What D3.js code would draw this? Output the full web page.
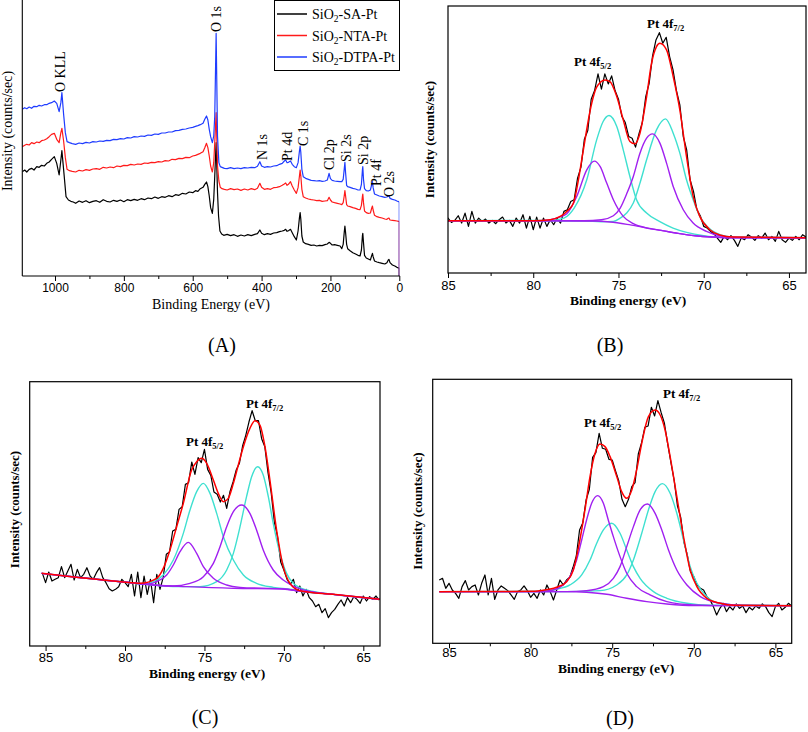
<!DOCTYPE html>
<html><head><meta charset="utf-8">
<script src="https://cdn.jsdelivr.net/npm/d3@7/dist/d3.min.js"></script>
<style>body{margin:0;background:#fff}svg{display:block}</style>
</head><body>
<svg id="c" width="808" height="732"></svg>
<script>
// ---------------- DATA ----------------
// Panel A: survey spectra, [binding energy eV, intensity a.u.]
const surveySA = [[1095,313],[1088,318],[1082,312],[1075,320],[1068,323],[1061,318],[1053,328],[1046,326],[1039,332],[1031,330],[1024,338],[1017,342],[1010,350],[1002,358],[995,338],[988,303],[983,348],[980,376],[974,308],[968,238],[961,228],[954,224],[947,222],[940,218],[930,225],[920,221],[910,226],[900,220],[890,224],[880,226],[870,221],[860,229],[850,224],[840,222],[830,227],[820,224],[810,228],[800,223],[790,229],[780,226],[770,230],[760,227],[750,232],[740,229],[730,234],[720,232],[710,237],[700,233],[690,238],[680,236],[670,241],[660,238],[650,244],[640,242],[630,248],[620,246],[610,252],[600,250],[592,256],[585,254],[578,262],[570,266],[565,275],[560,282],[556,268],[552,240],[548,205],[543,188],[539,230],[536,300],[532,400],[528,250],[525,180],[521,135],[516,126],[510,122],[500,125],[490,121],[480,124],[470,119],[460,123],[450,120],[440,124],[430,121],[420,125],[412,127],[405,138],[400,128],[392,124],[383,127],[374,125],[365,129],[356,130],[348,133],[340,135],[334,137],[330,140],[326,134],[322,136],[316,140],[311,130],[305,118],[299,108],[294,135],[290,175],[288,190],[286,170],[283,120],[279,102],[272,97],[264,95],[256,92],[248,93],[240,90],[232,92],[224,91],[216,94],[209,96],[204,101],[200,98],[195,93],[188,94],[180,92],[172,90],[167,82],[163,95],[160,130],[158,150],[156,130],[153,95],[150,82],[143,76],[135,70],[127,66],[120,62],[114,60],[110,78],[107,122],[106,128],[104,100],[101,62],[96,54],[90,51],[84,48],[80,62],[78,68],[76,58],[72,45],[65,42],[58,40],[50,38],[42,36],[36,40],[32,48],[30,50],[27,40],[20,33],[13,30],[7,26],[2,24],[0,23],[0,0]];
const surveyNTA = [[1095,388],[1088,392],[1082,395],[1075,393],[1068,400],[1061,397],[1053,402],[1046,400],[1039,406],[1031,408],[1024,412],[1017,418],[1010,425],[1002,428],[995,410],[988,400],[983,430],[980,443],[975,405],[970,355],[965,320],[958,316],[950,314],[940,312],[930,317],[920,315],[910,319],[900,317],[890,321],[880,322],[870,320],[860,326],[850,324],[840,327],[830,325],[820,330],[810,328],[800,332],[790,331],[780,335],[770,333],[760,336],[750,335],[740,339],[730,338],[720,341],[710,340],[700,343],[690,342],[680,346],[670,345],[660,350],[650,349],[640,353],[630,352],[620,356],[610,355],[600,360],[592,362],[585,365],[578,368],[570,373],[565,385],[560,398],[556,385],[552,360],[548,330],[543,312],[539,340],[536,400],[532,490],[528,330],[524,285],[520,266],[515,262],[508,260],[500,258],[490,262],[480,259],[470,261],[460,257],[450,261],[440,258],[430,262],[420,259],[412,263],[405,278],[400,266],[392,260],[383,262],[374,260],[365,265],[356,266],[348,268],[340,272],[334,276],[330,279],[326,272],[322,275],[316,283],[311,270],[305,258],[299,248],[294,265],[290,300],[288,318],[286,300],[283,260],[279,238],[272,234],[264,231],[256,229],[248,228],[240,226],[232,227],[224,224],[216,225],[209,226],[204,236],[200,228],[195,222],[188,220],[180,218],[172,216],[167,214],[163,220],[160,240],[158,256],[156,240],[153,214],[150,210],[143,208],[135,205],[127,203],[120,200],[114,199],[110,212],[107,240],[106,246],[104,220],[101,195],[96,190],[90,188],[84,189],[80,204],[78,210],[76,198],[72,182],[65,178],[58,176],[50,174],[42,171],[36,170],[32,173],[30,174],[27,168],[20,167],[13,166],[7,165],[2,164],[0,163],[0,0]];
const surveyDTPA = [[1095,500],[1088,505],[1082,502],[1075,507],[1068,503],[1061,509],[1053,508],[1046,512],[1039,510],[1031,514],[1024,514],[1017,518],[1010,520],[1002,525],[995,518],[988,493],[983,520],[980,550],[975,485],[970,430],[965,403],[958,400],[950,397],[940,395],[930,399],[920,397],[910,401],[900,399],[890,403],[880,402],[870,405],[860,404],[850,407],[840,406],[830,410],[820,409],[810,412],[800,411],[790,415],[780,414],[770,418],[760,417],[750,420],[740,419],[730,423],[720,422],[710,426],[700,425],[690,429],[680,429],[670,432],[660,432],[650,436],[640,437],[630,440],[620,441],[610,444],[600,446],[592,449],[585,451],[578,454],[570,458],[565,470],[560,480],[556,468],[552,440],[548,418],[543,400],[539,420],[536,480],[532,728],[528,420],[524,340],[520,328],[515,326],[508,323],[500,322],[490,325],[480,322],[470,324],[460,322],[450,325],[440,324],[430,326],[420,325],[412,329],[405,343],[400,330],[392,326],[383,328],[374,327],[365,330],[356,331],[348,335],[340,338],[334,345],[330,348],[326,340],[322,341],[316,345],[311,335],[305,328],[299,325],[294,340],[290,375],[288,390],[286,370],[283,320],[279,298],[272,293],[264,290],[256,287],[248,286],[240,285],[232,286],[224,284],[216,285],[209,288],[204,308],[200,292],[195,287],[188,285],[180,284],[172,283],[167,283],[163,290],[160,320],[158,341],[156,310],[153,272],[150,268],[143,266],[135,263],[127,261],[120,258],[114,258],[110,275],[107,320],[106,328],[104,290],[101,262],[96,256],[90,255],[84,258],[80,275],[78,283],[76,265],[72,246],[65,243],[58,240],[50,238],[42,236],[36,237],[32,240],[30,241],[27,233],[20,230],[13,228],[7,225],[2,223],[0,222],[0,0]];
const surveyNames = ["SA", "NTA", "DTPA"];
const surveyTicks = [1000, 800, 600, 400, 200, 0];
const surveyMinor = [900, 700, 500, 300, 100];
const peakLabels = ["O KLL", "O 1s", "N 1s", "Pt 4d", "C 1s", "Cl 2p", "Si 2s", "Si 2p", "Pt 4f", "O 2s"];

// Panels B-D: Pt 4f high-resolution spectra
const gridE = [85.6,85.4,85.2,85.0,84.8,84.6,84.4,84.2,84.0,83.8,
83.6,83.4,83.2,83.0,82.8,82.6,82.4,82.2,82.0,81.8,
81.6,81.4,81.2,81.0,80.8,80.6,80.4,80.2,80.0,79.8,
79.6,79.4,79.2,79.0,78.8,78.6,78.4,78.2,78.0,77.8,
77.6,77.4,77.2,77.0,76.8,76.6,76.4,76.2,76.0,75.8,
75.6,75.4,75.2,75.0,74.8,74.6,74.4,74.2,74.0,73.8,
73.6,73.4,73.2,73.0,72.8,72.6,72.4,72.2,72.0,71.8,
71.6,71.4,71.2,71.0,70.8,70.6,70.4,70.2,70.0,69.8,
69.6,69.4,69.2,69.0,68.8,68.6,68.4,68.2,68.0,67.8,
67.6,67.4,67.2,67.0,66.8,66.6,66.4,66.2,66.0,65.8,
65.6,65.4,65.2,65.0,64.8,64.6,64.4,64.2,64.0];

const rawB = [155,160,150,165,152,158,172,150,180,140,
185,150,165,155,162,150,158,148,160,168,
150,158,140,165,150,175,135,170,130,168,
135,165,140,160,145,165,150,185,190,215,
220,285,318,402,428,522,548,598,552,598,
568,592,548,522,470,452,410,405,378,418,
452,530,570,652,700,722,690,708,650,610,
548,505,410,370,280,245,190,172,140,135,
125,118,105,92,110,100,112,98,80,105,
100,115,108,98,112,105,120,100,110,95,
125,100,92,105,98,110,100,115,108];
const bgB = [[85,157],[78,157],[76.5,156],[75.5,153],[74.5,146],[73.5,137],[72.5,128],[71.5,119],[70.5,112],[69.5,108],[68.5,106],[64,106]];
const p1B = [[85,157],[80,157],[79.6,157],[78.62,165],[78.03,178],[77.45,230],[76.86,310],[76.41,336],[76.08,320],[75.69,270],[75.3,220],[74.72,170],[74.13,148],[73.35,135],[72.5,128],[71.5,119],[70.5,112],[69.5,108],[68.5,106],[64,106]];
const c1B = [[85,157],[79,158],[78.2,165],[77.6,195],[76.86,280],[76.28,400],[75.9,455],[75.55,473],[75.1,440],[74.72,370],[74.33,290],[73.94,220],[73.35,180],[72.6,155],[71.8,135],[71,122],[70,112],[69,107],[64,106]];
const p2B = [[85,157],[77,157],[76.0,160],[75.3,172],[74.9,195],[74.5,240],[74.13,290],[73.74,360],[73.35,405],[73.0,418],[72.57,390],[72.18,330],[71.79,260],[71.2,190],[70.62,150],[69.84,125],[69.06,112],[68,107],[64,106]];
const c2B = [[85,157],[77,156],[76,154],[75.3,155],[74.9,165],[74.52,180],[74.13,210],[73.74,270],[73.35,340],[72.77,430],[72.24,463],[71.79,420],[71.4,360],[71.01,280],[70.62,220],[70.23,170],[69.8,140],[69.25,120],[68.28,108],[64,106]];
const fitB = [[85,157],[80,157],[79,160],[78.42,170],[78.03,185],[77.64,210],[77.35,280],[77.06,370],[76.57,510],[76.28,558],[75.79,580],[75.5,575],[75.1,530],[74.72,460],[74.33,395],[74.03,388],[73.74,420],[73.35,530],[73.06,630],[72.77,680],[72.57,690],[72.18,670],[71.79,590],[71.4,490],[71.01,350],[70.62,230],[70.23,170],[69.64,130],[69.06,114],[68.28,108],[64,106]];

const rawC = [null,null,218,190,222,195,200,205,238,205,
225,245,198,230,205,215,235,210,200,220,
235,205,190,172,165,170,178,200,190,178,
215,150,222,145,210,155,200,130,215,170,
205,275,282,345,350,410,418,485,490,552,
515,565,550,590,530,512,462,455,432,452,
413,462,492,528,548,600,632,672,706,676,
676,622,598,520,460,372,328,252,228,200,
185,200,160,180,150,170,145,135,118,125,
100,112,85,100,110,125,138,120,145,130,
148,140,128,150,135,148,140,150,138];
const bgC = [[85.25,218],[82.63,205],[80.11,192],[78.22,183],[76.12,178],[73.18,173],[70.04,171],[69,165],[66.9,155],[63.95,140]];
const p1C = [[85.25,218],[80.11,192],[78.5,186],[78.01,193],[77.38,213],[76.96,243],[76.54,283],[76.02,311],[75.49,278],[75.07,238],[74.44,203],[73.6,183],[72.76,176],[70.04,171],[69,165],[66.9,155],[63.95,140]];
const c1C = [[85.25,218],[80.11,192],[78.8,186],[78.22,193],[77.59,213],[76.96,258],[76.33,338],[75.91,408],[75.49,463],[75.07,488],[74.65,458],[74.23,398],[73.81,328],[73.18,258],[72.55,213],[71.72,188],[70.67,176],[69.5,170],[69,165],[66.9,155],[63.95,140]];
const p2C = [[85.25,218],[80.11,192],[77,180],[75.91,188],[75.07,208],[74.44,248],[74.02,298],[73.6,358],[73.18,403],[72.66,423],[72.14,398],[71.72,348],[71.3,288],[70.67,228],[70.04,198],[69.41,180],[68.57,166],[66.9,155],[63.95,140]];
const c2C = [[85.25,218],[80.11,192],[76.5,178],[75.28,178],[74.23,193],[73.6,228],[73.18,278],[72.76,358],[72.35,448],[72.03,508],[71.65,538],[71.3,513],[70.98,448],[70.67,368],[70.25,278],[69.83,218],[69.41,188],[68.57,168],[66.9,155],[63.95,140]];
const fitC = [[85.25,218],[80.11,192],[79.06,188],[78.01,203],[77.59,233],[77.17,288],[76.75,358],[76.33,428],[75.81,528],[75.49,553],[75.18,563],[74.86,548],[74.44,498],[74.13,458],[73.81,433],[73.5,443],[73.18,488],[72.87,543],[72.55,598],[72.14,653],[71.82,676],[71.51,663],[71.19,598],[70.88,498],[70.46,348],[70.04,238],[69.62,188],[68.99,166],[66.9,155],[63.95,140]];

const rawD = [190,195,165,180,160,150,135,170,188,160,
170,175,145,180,205,145,195,132,160,172,
165,158,145,132,155,160,172,158,138,150,
135,160,145,175,155,130,160,190,175,190,
198,228,262,340,362,430,462,558,572,630,
585,582,552,550,518,488,432,410,432,470,
482,568,602,648,652,708,682,728,692,660,
598,542,488,412,378,302,266,214,200,175,
165,160,140,130,110,85,105,120,95,110,
100,118,105,112,92,108,100,112,105,118,
110,92,80,110,120,100,108,120,112];
const bgD = [[85.6,155],[77.8,155],[76.57,153],[75.34,147],[74.11,135],[72.88,125],[71.65,118],[70.0,113],[64,113]];
const p1D = [[85.6,155],[79.5,155],[78.61,160],[78.0,175],[77.59,200],[77.18,250],[76.87,310],[76.57,370],[76.26,420],[75.89,443],[75.54,420],[75.24,370],[74.93,320],[74.52,260],[74.11,210],[73.5,170],[72.68,145],[71.65,125],[70.0,115],[68,113],[64,113]];
const c1D = [[85.6,155],[79.5,156],[78.41,162],[77.59,175],[76.87,205],[76.36,250],[75.95,300],[75.54,340],[75.03,360],[74.52,330],[74.11,280],[73.7,230],[73.29,195],[72.47,155],[71.65,135],[70.42,120],[69,114],[64,113]];
const p2D = [[85.6,155],[77.8,155],[76.57,158],[75.54,170],[74.93,195],[74.52,230],[74.11,290],[73.7,350],[73.29,400],[72.84,418],[72.37,390],[71.96,340],[71.55,280],[71.04,220],[70.42,175],[69.6,140],[68.38,120],[67,114],[64,113]];
const c2D = [[85.6,155],[77.8,155],[75.75,158],[74.72,175],[74.11,205],[73.7,250],[73.19,330],[72.78,400],[72.37,455],[71.92,479],[71.45,450],[71.04,390],[70.63,310],[70.22,230],[69.81,180],[69.2,140],[68.38,120],[67,114],[64,113]];
const fitD = [[85.6,155],[80,156],[79.43,158],[78.41,168],[77.79,185],[77.38,220],[76.98,310],[76.67,400],[76.36,500],[76.05,570],[75.75,598],[75.44,590],[75.13,560],[74.72,500],[74.42,455],[74.11,435],[73.8,460],[73.5,520],[73.19,600],[72.78,680],[72.37,700],[72.06,685],[71.76,640],[71.45,560],[71.04,440],[70.63,320],[70.22,220],[69.81,170],[69.2,135],[68.38,120],[67.56,114],[64,113]];

const ptTicks = [85, 80, 75, 70, 65];
const ptMinor = [82.5, 77.5, 72.5, 67.5];

// ---------------- DRAWING ----------------
const svg = d3.select('#c');
const SERIF = "'Liberation Serif','Times New Roman',Times,serif";
const SANS = "'Liberation Sans',Arial,Helvetica,sans-serif";
const COL = {raw:'#000000', fit:'#ff0000', cyan:'#3fe0d0', purple:'#a020f0',
  SA:'#000000', NTA:'#ff1a1a', DTPA:'#1f3cff'};

let clipN = 0;
function panel(cfg){
  const g = svg.append('g');
  const x = d3.scaleLinear().domain(cfg.xd).range(cfg.xr);
  const y = d3.scaleLinear().domain(cfg.yd).range(cfg.yr);
  const id = 'clip' + (clipN++);
  svg.append('defs').append('clipPath').attr('id', id).append('rect')
    .attr('x', cfg.xr[0]).attr('y', cfg.yr[1])
    .attr('width', cfg.xr[1]-cfg.xr[0]).attr('height', cfg.yr[0]-cfg.yr[1]);
  const plot = g.append('g').attr('clip-path', `url(#${id})`);
  const mi = g.append('g').attr('transform', `translate(0,${cfg.yr[0]})`)
    .call(d3.axisBottom(x).tickValues(cfg.minor).tickSize(3).tickSizeOuter(0).tickFormat(''));
  mi.select('.domain').remove();
  const ma = g.append('g').attr('transform', `translate(0,${cfg.yr[0]})`)
    .call(d3.axisBottom(x).tickValues(cfg.major).tickSize(5).tickSizeOuter(0).tickFormat(d3.format('d')));
  ma.select('.domain').remove();
  g.selectAll('.tick line').attr('stroke', '#000').attr('stroke-width', 1);
  ma.selectAll('.tick text').attr('y', cfg.labelBase - cfg.yr[0]).attr('dy', null)
    .attr('font-family', SANS).attr('font-size', cfg.tickFont).attr('fill', '#000');
  return {g, plot, x, y};
}
function path(p, data, x, y, color, w, curve){
  const ln = d3.line().defined(d => d[1] != null).x(d => x(d[0])).y(d => y(d[1])).curve(curve || d3.curveLinear);
  p.append('path').datum(data).attr('d', ln).attr('fill', 'none')
    .attr('stroke', color).attr('stroke-width', w).attr('stroke-linejoin', 'round');
}
function text(parent, s, x, y, opt){
  const t = parent.append('text').attr('x', x).attr('y', y)
    .attr('font-family', opt.family || SERIF).attr('font-size', opt.size)
    .attr('font-weight', opt.weight || 'normal').attr('text-anchor', opt.anchor || 'start').attr('fill', '#000');
  if (opt.rotate) t.attr('x', 0).attr('y', 0).attr('transform', `translate(${x},${y}) rotate(-90)`);
  t.text(s);
  return t;
}

// ----- Panel A -----
{
  const P = panel({xd:[1095,0], xr:[22.3,399.3], yd:[0,828], yr:[276,0],
    major:surveyTicks, minor:surveyMinor, labelBase:292, tickFont:12});
  const series = [surveySA, surveyNTA, surveyDTPA];
  series.forEach((s, i) => path(P.plot, s, P.x, P.y, COL[surveyNames[i]], 1.2));
  P.g.append('line').attr('x1',22.3).attr('x2',22.3).attr('y1',0).attr('y2',276).attr('stroke','#000').attr('stroke-width',1.1);
  P.g.append('line').attr('x1',22.3).attr('x2',399.8).attr('y1',276).attr('y2',276).attr('stroke','#000').attr('stroke-width',1.1);
  const pos = [[65,92],[221,32],[267,160],[292,161],[308,146],[334,170],[351,162],[368,165],[381,186],[394,197]];
  peakLabels.forEach((s, i) => text(P.g, s, pos[i][0], pos[i][1], {size:14, rotate:true}));
  const lg = P.g.append('g');
  lg.append('rect').attr('x',274.5).attr('y',0.5).attr('width',125).attr('height',70)
    .attr('fill','#fff').attr('stroke','#000').attr('stroke-width',1);
  surveyNames.forEach((n, i) => {
    const yy = 14 + i*21.5;
    lg.append('line').attr('x1',277).attr('x2',307).attr('y1',yy).attr('y2',yy)
      .attr('stroke', COL[n]).attr('stroke-width',1.5);
    const t = lg.append('text').attr('x',312).attr('y',yy+5).attr('font-family',SERIF).attr('font-size',14).attr('fill','#000');
    t.append('tspan').text('SiO');
    t.append('tspan').attr('dy',3).attr('font-size',9.5).text('2');
    t.append('tspan').attr('dy',-3).text('-' + n + '-Pt');
  });
  text(P.g, 'Intensity (counts/sec)', 12, 131, {size:14, rotate:true, anchor:'middle'});
  text(P.g, 'Binding Energy (eV)', 211, 309, {size:14, anchor:'middle'});
  text(svg, '(A)', 222, 352, {size:20, anchor:'middle'});
}

// ----- Panels B, C, D -----
function ptPanel(cfg){
  const P = panel({xd:cfg.xd, xr:cfg.xr, yd:cfg.yd, yr:cfg.yr,
    major:ptTicks, minor:ptMinor, labelBase:cfg.labelBase, tickFont:13});
  const raw = gridE.map((e, i) => [e, cfg.raw[i]]);
  path(P.plot, raw, P.x, P.y, COL.raw, 1.2);
  const sm = d3.curveMonotoneX;
  path(P.plot, cfg.c1, P.x, P.y, COL.cyan, 1.4, sm);
  path(P.plot, cfg.c2, P.x, P.y, COL.cyan, 1.4, sm);
  path(P.plot, cfg.p1, P.x, P.y, COL.purple, 1.4, sm);
  path(P.plot, cfg.p2, P.x, P.y, COL.purple, 1.4, sm);
  path(P.plot, cfg.bg, P.x, P.y, COL.purple, 1.4, sm);
  path(P.plot, cfg.fit, P.x, P.y, COL.fit, 1.5, sm);
  P.g.append('rect').attr('x',cfg.xr[0]).attr('y',cfg.yr[1])
    .attr('width',cfg.xr[1]-cfg.xr[0]).attr('height',cfg.yr[0]-cfg.yr[1])
    .attr('fill','none').attr('stroke','#000').attr('stroke-width',1.2);
  const lab = (x, y, sub) => {
    const t = P.g.append('text').attr('x',x).attr('y',y).attr('font-family',SERIF)
      .attr('font-weight','bold').attr('font-size',13).attr('fill','#000');
    t.append('tspan').text('Pt 4f');
    t.append('tspan').attr('dy',3).attr('font-size',8.5).text(sub);
  };
  lab(cfg.l52[0], cfg.l52[1], '5/2');
  lab(cfg.l72[0], cfg.l72[1], '7/2');
  text(P.g, 'Intensity (counts/sec)', cfg.yt[0], cfg.yt[1], {size:13, weight:'bold', rotate:true, anchor:'middle'});
  text(P.g, 'Binding energy (eV)', cfg.xt[0], cfg.xt[1], {size:13.5, weight:'bold', anchor:'middle'});
  text(svg, cfg.tag, cfg.tagPos[0], cfg.tagPos[1], {size:20, anchor:'middle'});
}
ptPanel({xd:[85,64], xr:[448,806], yd:[0,802], yr:[273,6], labelBase:290,
  raw:rawB, bg:bgB, p1:p1B, c1:c1B, p2:p2B, c2:c2B, fit:fitB,
  l52:[574,65.7], l72:[647,27.5], yt:[434,139.5], xt:[628,304.5], tag:'(B)', tagPos:[610,352]});
ptPanel({xd:[86,63.95], xr:[29.7,380], yd:[0,793], yr:[646,381.7], labelBase:662,
  raw:rawC, bg:bgC, p1:p1C, c1:c1C, p2:p2C, c2:c2C, fit:fitC,
  l52:[186,446], l72:[246,407.7], yt:[19,509.5], xt:[207,678], tag:'(C)', tagPos:[205,724]});
ptPanel({xd:[86,64], xr:[432.7,791.7], yd:[0,792], yr:[643.3,379.3], labelBase:657,
  raw:rawD, bg:bgD, p1:p1D, c1:c1D, p2:p2D, c2:c2D, fit:fitD,
  l52:[584,426.7], l72:[663,398], yt:[422,511], xt:[616,673], tag:'(D)', tagPos:[620,725]});
</script>
</body></html>
